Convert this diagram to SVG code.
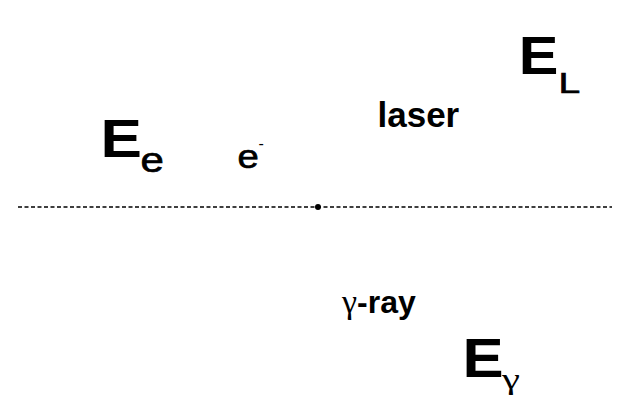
<svg xmlns="http://www.w3.org/2000/svg" width="635" height="408" viewBox="0 0 635 408">
<style>
text{font-family:"Liberation Sans",Arial,sans-serif;fill:#000}
.b{font-weight:bold}
.big{font-size:54px;font-weight:bold}
.g{font-family:"Liberation Serif","Times New Roman",serif}
.m{stroke:#000;stroke-width:0.7px}
</style>
<rect width="635" height="408" fill="#fff"/>
<g id="axis">
<line x1="18" y1="207" x2="612" y2="207" stroke="#000" stroke-width="1.3" stroke-dasharray="4,2.5"/>
<circle cx="318" cy="207" r="3" fill="#000"/>
</g>
<g id="Ee">
<text class="big" transform="translate(100.5,157) scale(1.15,1)">E</text>
<text class="m" font-size="35" transform="translate(140.5,171.5) scale(1.2,1)">e</text>
</g>
<g id="electron">
<text class="m" font-size="33" transform="translate(237.4,167.5) scale(1.16,1)">e</text>
<text x="258.5" y="149" font-size="16">-</text>
</g>
<g id="laser"><text class="b" x="377.5" y="127" font-size="35">laser</text></g>
<g id="EL">
<text class="big" transform="translate(518.7,74) scale(1.1,1)">E</text>
<text class="m" font-size="30" transform="translate(558.5,93) scale(1.3,1)">L</text>
</g>
<g id="gammaray"><text x="342" y="313" font-size="32"><tspan class="g" font-size="34">γ</tspan><tspan class="b">-ray</tspan></text></g>
<g id="Egamma">
<text class="big" transform="translate(462.5,377) scale(1.1,1)" style="font-size:56px">E</text>
<text class="g" font-size="30" transform="translate(502,389) scale(1.35,1)">γ</text>
</g>
</svg>
